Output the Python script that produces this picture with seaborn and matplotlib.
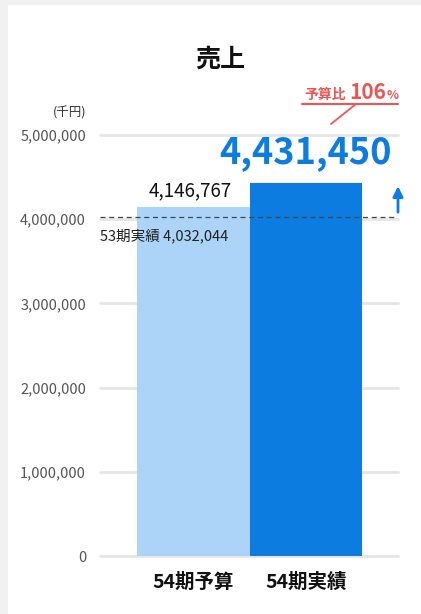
import matplotlib
matplotlib.use("Agg")
import matplotlib.pyplot as plt
import seaborn as sns
import pandas as pd
from matplotlib.patches import Rectangle
from matplotlib.lines import Line2D

# データ
categories = ["54期予算", "54期実績"]
values = [4146767, 4431450]
prev_label = "53期実績"
prev_value = 4032044
ratio_text = "106"
yticks = [0, 1000000, 2000000, 3000000, 4000000, 5000000]

bar_colors = ["#abd4f8", "#0c7ce0"]
blue = "#0c7ce0"
red = "#ec5552"

sns.set_theme(style="white")
plt.rcParams["font.family"] = ["Noto Sans CJK JP", "DejaVu Sans"]

W, H = 421, 614
fig = plt.figure(figsize=(W / 100, H / 100), dpi=100)
fig.patch.set_facecolor("#f1f1f1")
fig.patches.append(Rectangle((8 / W, 0), 1, 1 - 5 / H, transform=fig.transFigure,
                             facecolor="white", edgecolor="none", zorder=-5))


def px(x, y):
    # ピクセル座標(左上基準) -> figure座標
    return x / W, 1 - y / H


ax = fig.add_axes([100 / W, (H - 556) / H, 298 / W, 421 / H])
ax.set_zorder(2)
ax.patch.set_alpha(0)

df = pd.DataFrame({"cat": categories, "val": values})
sns.barplot(data=df, x="cat", y="val", hue="cat", palette=bar_colors,
            width=1.0, legend=False, ax=ax, saturation=1, zorder=2,
            linewidth=0, edgecolor="none")

ax.set_xlim(-0.829, 1.82)
ax.set_ylim(0, 5000000)
ax.set_yticks(yticks)
ax.set_yticklabels([f"{v:,}" for v in yticks], color="#555555", fontsize=10.5)
ax.tick_params(axis="y", length=0, pad=10)
ax.tick_params(axis="x", length=0, pad=12)
for lbl in ax.get_xticklabels():
    lbl.set_fontweight("bold")
    lbl.set_fontsize(14)
    lbl.set_color("#111111")
ax.set_xlabel("")
ax.set_ylabel("")
sns.despine(ax=ax, left=True, bottom=True)
for v in yticks:
    ax.axhline(v, color="#e6e6e6", lw=2, zorder=1, clip_on=False)

# 53期実績の点線
ax.axhline(prev_value, color="#444444", lw=0.9, ls=(0, (4, 3)), zorder=3)
ax.text(-0.829, prev_value - 140000, f"{prev_label} {prev_value:,}",
        ha="left", va="top", fontsize=10.5, color="#222222", zorder=4)

# 棒の値
ax.text(-0.03, values[0] + 60000, f"{values[0]:,}", ha="center", va="bottom",
        fontsize=13.5, color="#111111")
ax.text(1.0, values[1] + 140000, f"{values[1]:,}", ha="center", va="bottom",
        fontsize=26, fontweight="bold", color=blue)

# 上向き矢印
ax.annotate("", xy=(1.0, 0.885), xytext=(1.0, 0.81), xycoords="axes fraction",
            arrowprops=dict(arrowstyle="-|>,head_width=0.25,head_length=0.5",
                            color=blue, lw=2), annotation_clip=False)

# 単位
fig.text(*px(86, 113), "(千円)", ha="right", va="center", fontsize=9, color="#333333")

# タイトル
fig.text(*px(220, 60), "売上", ha="center", va="center", fontsize=18,
         fontweight="bold", color="#111111")

# 予算比
fig.text(*px(346, 99), "予算比", ha="right", va="baseline", fontsize=10,
         fontweight="bold", color=red)
fig.text(*px(386, 99), ratio_text, ha="right", va="baseline", fontsize=15,
         fontweight="bold", color=red)
fig.text(*px(387, 99), "%", ha="left", va="baseline", fontsize=9,
         fontweight="bold", color=red)
x0, y0 = px(302, 104)
x1, y1 = px(398, 104)
fig.add_artist(Line2D([x0, x1], [y0, y1], color=red, lw=1.5, transform=fig.transFigure))
x0, y0 = px(356, 104)
x1, y1 = px(331, 124)
fig.add_artist(Line2D([x0, x1], [y0, y1], color=red, lw=1.3, transform=fig.transFigure))

fig.savefig("out.png", dpi=100, facecolor=fig.get_facecolor())
